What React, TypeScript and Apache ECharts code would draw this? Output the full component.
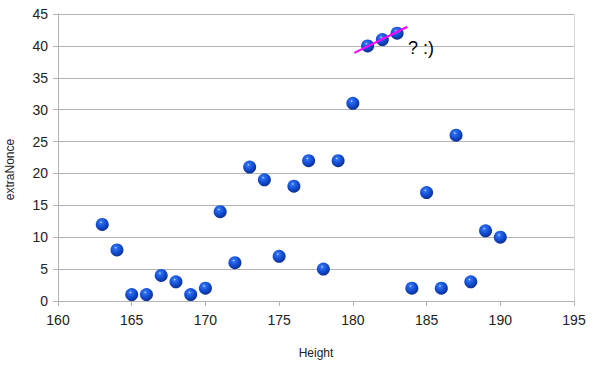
import React, { useEffect, useRef } from "react";
import * as echarts from "echarts";

const heights = [163, 164, 165, 166, 167, 168, 169, 170, 171, 172, 173, 174, 175, 176, 177, 178, 179, 180, 181, 182, 183, 184, 185, 186, 187, 188, 189, 190];
const extraNonce = [12, 8, 1, 1, 4, 3, 1, 2, 14, 6, 21, 19, 7, 18, 22, 5, 22, 31, 40, 41, 42, 2, 17, 2, 26, 3, 11, 10];
const trendLine = [[180.1, 38.9], [183.7, 43]];
const annotation = "? :)";
const xAxisName = "Height";
const yAxisName = "extraNonce";

export default function App() {
  const ref = useRef<HTMLDivElement>(null);
  useEffect(() => {
    document.body.style.margin = "0";
    const chart = echarts.init(ref.current!, null, { renderer: "svg" });
    const font = "'Liberation Sans', Arial, sans-serif";
    const ballColor = {
      type: "radial",
      x: 0.4,
      y: 0.33,
      r: 0.72,
      colorStops: [
        { offset: 0, color: "#dfe9ff" },
        { offset: 0.13, color: "#3373f2" },
        { offset: 0.5, color: "#1450d6" },
        { offset: 1, color: "#082a8a" },
      ],
    };
    chart.setOption({
      animation: false,
      backgroundColor: "#ffffff",
      grid: { left: 58, right: 26, top: 14, bottom: 69, outerBoundsMode: "none", containLabel: false },
      xAxis: {
        type: "value",
        min: 160,
        max: 195,
        interval: 5,
        name: xAxisName,
        nameLocation: "middle",
        nameGap: 46,
        nameTextStyle: { fontFamily: font, fontSize: 12, color: "#222" },
        axisLine: { show: true, lineStyle: { color: "#b3b3b3", width: 1 } },
        axisTick: { show: true, length: 5, lineStyle: { color: "#b3b3b3" } },
        axisLabel: { fontFamily: font, fontSize: 14, color: "#222", margin: 12 },
        splitLine: { show: false },
      },
      yAxis: {
        type: "value",
        min: 0,
        max: 45,
        interval: 5,
        name: yAxisName,
        nameLocation: "middle",
        nameRotate: 90,
        nameGap: 42,
        nameTextStyle: { fontFamily: font, fontSize: 12, color: "#222", padding: [0, 0, 0, -24] },
        axisLine: { show: true, lineStyle: { color: "#b3b3b3", width: 1 } },
        axisTick: { show: true, length: 5, lineStyle: { color: "#b3b3b3" } },
        axisLabel: { fontFamily: font, fontSize: 14, color: "#222", margin: 10 },
        splitLine: { show: true, lineStyle: { color: "#b3b3b3", width: 1 } },
      },
      graphic: [
        {
          type: "rect",
          shape: { x: 574, y: 14, width: 0.5, height: 287 },
          style: { fill: "#b3b3b3" },
          silent: true,
        },
        {
          type: "text",
          left: 408,
          top: 39,
          style: { text: annotation, fontFamily: font, fontSize: 18, fill: "#000" },
          z: 10,
        },
      ],
      series: [
        {
          type: "scatter",
          data: heights.map((h, i) => [h, extraNonce[i]]),
          symbol: "circle",
          symbolSize: 13,
          itemStyle: { color: ballColor, borderWidth: 0, opacity: 1 },
          z: 2,
        },
        {
          type: "line",
          data: trendLine,
          symbol: "none",
          lineStyle: { color: "#ff00ff", width: 2 },
          z: 3,
        },
      ],
    });
    return () => chart.dispose();
  }, []);
  return <div ref={ref} style={{ width: 600, height: 370 }} />;
}
